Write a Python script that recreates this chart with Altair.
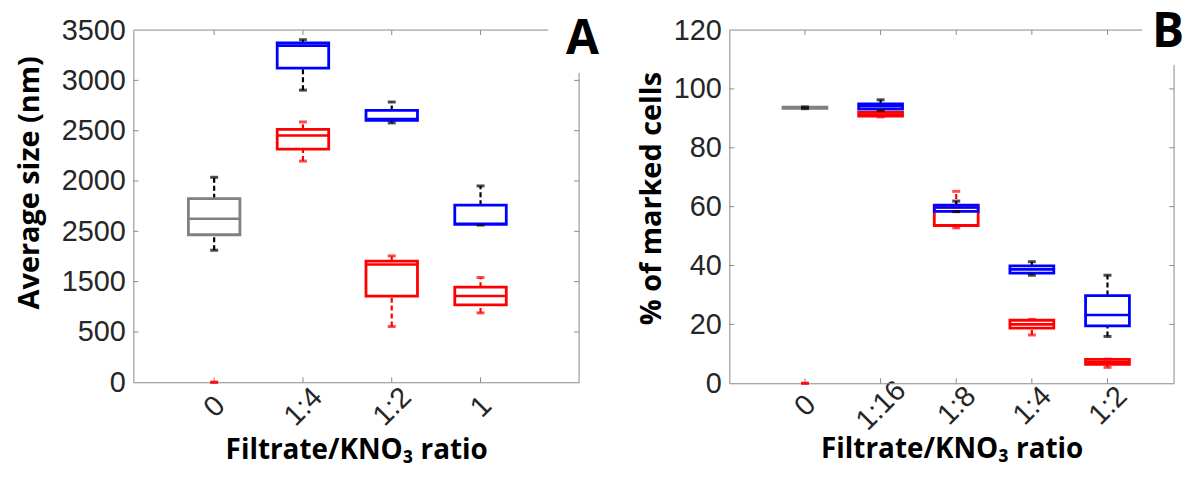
import altair as alt
import pandas as pd

# ---------------- Panel A data ----------------
A_xticks = ["0", "1:4", "1:2", "1"]
A_category = ["0", "0", "1:4", "1:4", "1:2", "1:2", "1", "1"]
A_series = ["series 2", "control", "series 2", "series 1", "series 2", "series 1", "series 2", "series 1"]
A_low = [0, 1312, 2198, 2903, 554, 2577, 689, 1562]
A_q1 = [0, 1466, 2317, 3121, 857, 2603, 768, 1569]
A_median = [0, 1625, 2452, 3345, 1170, 2615, 857, 1575]
A_q3 = [0, 1825, 2514, 3372, 1203, 2702, 945, 1760]
A_high = [0, 2037, 2587, 3404, 1256, 2785, 1041, 1951]
A_yticks = [0, 500, 1000, 1500, 2000, 2500, 3000, 3500]
A_ytick_labels = ["0", "500", "1500", "2500", "2000", "2500", "3000", "3500"]

# ---------------- Panel B data ----------------
B_xticks = ["0", "1:16", "1:8", "1:4", "1:2"]
B_category = ["0", "0", "1:16", "1:16", "1:8", "1:8", "1:4", "1:4", "1:2", "1:2"]
B_series = ["series 2", "control", "series 2", "series 1", "series 2", "series 1", "series 2", "series 1", "series 2", "series 1"]
B_low = [0, 93.3, 90.5, 92.6, 52.8, 58.3, 16.4, 36.7, 5.4, 15.9]
B_q1 = [0, 93.4, 90.8, 93.1, 53.6, 58.4, 18.7, 37.4, 6.4, 19.5]
B_median = [0, 93.6, 91.3, 94.1, 59.8, 59.7, 20.0, 38.7, 7.2, 23.2]
B_q3 = [0, 93.8, 92.0, 94.9, 59.9, 60.5, 21.4, 39.9, 8.1, 29.8]
B_high = [0, 93.9, 92.6, 96.3, 65.2, 61.9, 21.7, 41.3, 8.2, 36.7]
B_yticks = [0, 20, 40, 60, 80, 100, 120]

X_TITLE = "Filtrate/KNO\u2083 ratio"
LABEL_FONT = "Liberation Sans"
TITLE_FONT = "Open Sans"
HALF = 0.29
AXIS_GRAY = "#8a8a8a"
SERIES_DOMAIN = ["control", "series 1", "series 2"]
SERIES_RANGE = ["#808080", "#0000ff", "#ff0000"]


def make_df(cats, series, lo, q1, med, q3, hi, xticks):
    return pd.DataFrame({
        "category": cats,
        "series": series,
        "pos": [xticks.index(c) + 1 for c in cats],
        "lo": lo, "q1": q1, "med": med, "q3": q3, "hi": hi,
    })


def panel(df, xticks, xdomain, yticks, ylabel_expr, ydomain, ytitle, ytitle_pad, ytitle_y,
          xlabel_pad, xtitle_pad, w, h, letter, letter_dx, letter_y, top_len, right_start):
    xlab = "[" + ",".join("'" + t + "'" for t in [""] + xticks) + "][datum.value]"
    xaxis = alt.Axis(values=list(range(1, len(xticks) + 1)), labelExpr=xlab,
                     title=X_TITLE, labelAngle=315, labelAlign="center",
                     labelBaseline="middle", labelPadding=xlabel_pad, titlePadding=xtitle_pad)
    yaxis = alt.Axis(values=yticks, labelExpr=ylabel_expr, title=ytitle,
                     labelPadding=8, titlePadding=ytitle_pad, titleY=ytitle_y)
    xs = alt.Scale(domain=xdomain, nice=False, zero=False)
    ys = alt.Scale(domain=ydomain, nice=False, zero=False)
    col = alt.Color("series:N", scale=alt.Scale(domain=SERIES_DOMAIN, range=SERIES_RANGE), legend=None)
    wcol = alt.Color("wc:N", scale=None, legend=None)

    def X(f):
        return alt.X(f, type="quantitative", scale=xs, axis=xaxis)

    def Y(f):
        return alt.Y(f, type="quantitative", scale=ys, axis=yaxis)

    base = alt.Chart(df).transform_calculate(
        xl=f"datum.pos - {HALF}", xr=f"datum.pos + {HALF}",
        wc="datum.series == 'series 2' ? '#ff0000' : '#000000'")

    w_up = base.mark_rule(strokeDash=[5, 3], strokeWidth=2.2).encode(
        x=X("pos"), y=Y("q3"), y2="hi", color=wcol)
    w_lo = base.mark_rule(strokeDash=[5, 3], strokeWidth=2.2).encode(
        x=X("pos"), y=Y("lo"), y2="q1", color=wcol)
    box = base.transform_filter("datum.q3 > datum.q1").mark_rect(
        filled=False, strokeWidth=2.8).encode(
        x=X("xl"), x2="xr", y=Y("q1"), y2="q3", color=col)
    med = base.transform_filter("datum.q3 > datum.q1").mark_rule(strokeWidth=2.6).encode(
        x=X("xl"), x2="xr", y=Y("med"), color=col)
    cap_hi = base.mark_tick(orient="horizontal", size=8, thickness=3).encode(
        x=X("pos"), y=Y("hi"), color=wcol)
    cap_lo = base.mark_tick(orient="horizontal", size=8, thickness=3).encode(
        x=X("pos"), y=Y("lo"), color=wcol)

    # inward ticks and the partial frame (MATLAB style)
    xt = alt.Chart(pd.DataFrame({"pos": list(range(1, len(xticks) + 1))}))
    yt = alt.Chart(pd.DataFrame({"v": yticks[1:-1]}))
    tick_top = xt.mark_rule(color=AXIS_GRAY, strokeWidth=1).encode(
        x=X("pos"), y=alt.value(0), y2=alt.value(5))
    tick_bot = xt.mark_rule(color=AXIS_GRAY, strokeWidth=1).encode(
        x=X("pos"), y=alt.value(h - 5), y2=alt.value(h))
    tick_left = yt.mark_rule(color=AXIS_GRAY, strokeWidth=1).encode(
        y=Y("v"), x=alt.value(0), x2=alt.value(5))
    tick_right = yt.mark_rule(color=AXIS_GRAY, strokeWidth=1).encode(
        y=Y("v"), x=alt.value(w - 5), x2=alt.value(w))
    frame = alt.Chart(pd.DataFrame({"a": [0]}))
    top_line = frame.mark_rule(color=AXIS_GRAY, strokeWidth=1).encode(
        x=alt.value(0), x2=alt.value(top_len), y=alt.value(0))
    right_line = frame.mark_rule(color=AXIS_GRAY, strokeWidth=1).encode(
        x=alt.value(w), y=alt.value(right_start), y2=alt.value(h))

    letter_mark = alt.Chart(pd.DataFrame({"t": [letter]})).mark_text(
        font=TITLE_FONT, fontWeight="bold", fontSize=48, align="right",
        baseline="alphabetic", color="black").encode(
        x=alt.value(w + letter_dx), y=alt.value(letter_y), text="t:N")

    return alt.layer(tick_top, tick_bot, tick_left, tick_right, top_line, right_line,
                     w_up, w_lo, box, med, cap_hi, cap_lo, letter_mark).properties(
        width=w, height=h)


dfA = make_df(A_category, A_series, A_low, A_q1, A_median, A_q3, A_high, A_xticks)
dfB = make_df(B_category, B_series, B_low, B_q1, B_median, B_q3, B_high, B_xticks)

a_lab = "[" + ",".join("'" + s + "'" for s in A_ytick_labels) + "][datum.value / 500]"

chartA = panel(dfA, A_xticks, [0.09, 5.11], A_yticks, a_lab, [0, 3500],
               "Average size (nm)", 17, 153, 24, 6, 448, 354, "A", 20, 24, 417, 43)
chartB = panel(dfB, B_xticks, [0.0, 5.88], B_yticks, "datum.label", [0, 120],
               "% of marked cells", 7, 169, 22, 0, 447, 355, "B", 10, 17, 415, 35)

chart = alt.hconcat(chartA, chartB, spacing=38).properties(
    padding={"left": 7, "top": 0, "right": 0, "bottom": 0}
).configure_view(
    stroke=None
).configure_axis(
    grid=False, ticks=False, domainColor=AXIS_GRAY, domainWidth=1,
    labelFont=LABEL_FONT, labelFontSize=29, labelColor="#262626",
    titleFont=TITLE_FONT, titleFontSize=29, titleFontWeight="bold", titleColor="black",
).configure_axisX(titleFontSize=28)

chart.save("out.html", embed_options={"renderer": "svg", "actions": False})
